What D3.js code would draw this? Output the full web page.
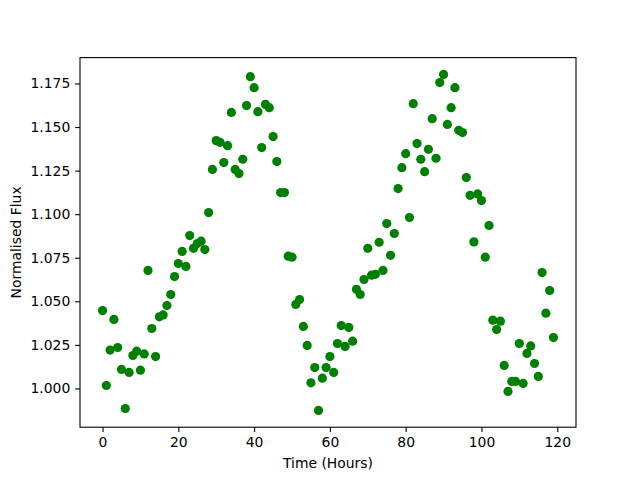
<!DOCTYPE html>
<html>

<head>
    <title>Normalised Flux</title>
    <script src="https://d3js.org/d3.v7.min.js"></script>
    <style>
        body { margin: 0; background: #fff; }
        text { font-family: "DejaVu Sans", sans-serif; }
    </style>
</head>

<body>
    <script>
        // time of each sample, in hours
        const hours = [
            0, 1, 2, 3, 4, 5, 6, 7, 8, 9, 10, 11, 12, 13, 14, 15, 16, 17, 18, 19,
            20, 21, 22, 23, 24, 25, 26, 27, 28, 29, 30, 31, 32, 33, 34, 35, 36, 37, 38, 39,
            40, 41, 42, 43, 44, 45, 46, 47, 48, 49, 50, 51, 52, 53, 54, 55, 56, 57, 58, 59,
            60, 61, 62, 63, 64, 65, 66, 67, 68, 69, 70, 71, 72, 73, 74, 75, 76, 77, 78, 79,
            80, 81, 82, 83, 84, 85, 86, 87, 88, 89, 90, 91, 92, 93, 94, 95, 96, 97, 98, 99,
            100, 101, 102, 103, 104, 105, 106, 107, 108, 109, 110, 111, 112, 113, 114, 115, 116, 117, 118, 119
        ];

        const flux = [
            1.0447, 1.0017, 1.0220, 1.0396, 1.0235, 1.0109, 0.9885, 1.0092, 1.0189, 1.0214,
            1.0105, 1.0198, 1.0677, 1.0344, 1.0183, 1.0411, 1.0422, 1.0476, 1.0539, 1.0642,
            1.0717, 1.0786, 1.0700, 1.0877, 1.0804, 1.0831, 1.0845, 1.0797, 1.1009, 1.1257,
            1.1422, 1.1412, 1.1296, 1.1393, 1.1584, 1.1257, 1.1233, 1.1315, 1.1623, 1.1789,
            1.1726, 1.1588, 1.1382, 1.1630, 1.1611, 1.1445, 1.1302, 1.1124, 1.1124, 1.0759,
            1.0753, 1.0482, 1.0510, 1.0356, 1.0247, 1.0032, 1.0120, 0.9874, 1.0059, 1.0120,
            1.0183, 1.0092, 1.0258, 1.0361, 1.0241, 1.0350, 1.0271, 1.0569, 1.0539, 1.0625,
            1.0804, 1.0650, 1.0655, 1.0839, 1.0677, 1.0946, 1.0764, 1.0889, 1.1147, 1.1267,
            1.1347, 1.0981, 1.1634, 1.1405, 1.1315, 1.1244, 1.1372, 1.1548, 1.1321, 1.1755,
            1.1802, 1.1515, 1.1611, 1.1726, 1.1481, 1.1468, 1.1210, 1.1108, 1.0841, 1.1116,
            1.1078, 1.0753, 1.0935, 1.0392, 1.0338, 1.0386, 1.0132, 0.9983, 1.0040, 1.0040,
            1.0258, 1.0029, 1.0201, 1.0244, 1.0143, 1.0069, 1.0665, 1.0432, 1.0562, 1.0292
        ];

        const xTicks = [0, 20, 40, 60, 80, 100, 120];
        const yTicks = [1.000, 1.025, 1.050, 1.075, 1.100, 1.125, 1.150, 1.175];

        const width = 640;
        const height = 480;
        const margin = { top: 57.6, right: 64, bottom: 52.8, left: 80 };
        const plotW = width - margin.left - margin.right;
        const plotH = height - margin.top - margin.bottom;
        const tick = 4.86;

        // matplotlib style autoscale: 5% padding on each side
        function padded(values) {
            const [lo, hi] = d3.extent(values);
            const pad = (hi - lo) * 0.05;
            return [lo - pad, hi + pad];
        }

        const x = d3.scaleLinear().domain(padded(hours)).range([0, plotW]);
        const y = d3.scaleLinear().domain(padded(flux)).range([plotH, 0]);

        const svg = d3.select("body").append("svg")
            .attr("width", width)
            .attr("height", height);

        const g = svg.append("g")
            .attr("transform", `translate(${margin.left},${margin.top})`);

        g.append("g")
            .selectAll("circle")
            .data(hours.map((h, i) => ({ h, f: flux[i] })))
            .enter().append("circle")
            .attr("cx", d => x(d.h))
            .attr("cy", d => y(d.f))
            .attr("r", 4.6)
            .attr("fill", "#008000");

        const xAxis = g.append("g")
            .attr("transform", `translate(0,${plotH})`)
            .call(d3.axisBottom(x).tickValues(xTicks).tickFormat(d3.format("d"))
                .tickSize(tick).tickPadding(4.86));

        const yAxis = g.append("g")
            .call(d3.axisLeft(y).tickValues(yTicks).tickFormat(d3.format(".3f"))
                .tickSize(tick).tickPadding(4.86));

        [xAxis, yAxis].forEach(a => {
            a.select(".domain").remove();
            a.selectAll("line").attr("stroke", "#000").attr("stroke-width", 1.1);
            a.selectAll("text").attr("fill", "#000").style("font-size", "13.9px")
                .style("font-family", "DejaVu Sans");
        });

        // frame
        g.append("rect")
            .attr("width", plotW)
            .attr("height", plotH)
            .attr("fill", "none")
            .attr("stroke", "#000")
            .attr("stroke-width", 1.1);

        svg.append("text")
            .attr("x", margin.left + plotW / 2)
            .attr("y", 468)
            .attr("text-anchor", "middle")
            .style("font-size", "13.9px")
            .text("Time (Hours)");

        svg.append("text")
            .attr("transform", `translate(21,${margin.top + plotH / 2}) rotate(-90)`)
            .attr("text-anchor", "middle")
            .style("font-size", "13.9px")
            .text("Normalised Flux");
    </script>
</body>

</html>
